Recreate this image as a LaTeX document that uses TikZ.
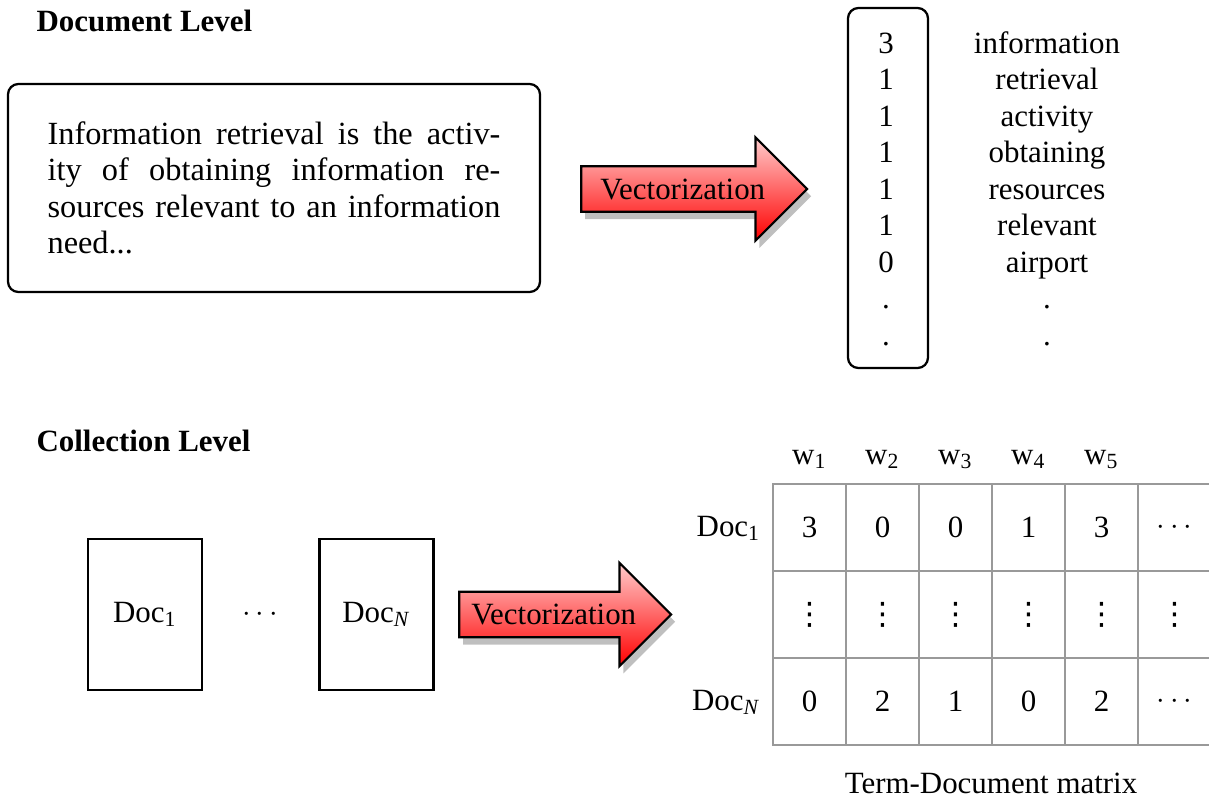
\documentclass[tikz,border=0pt]{standalone}
\usepackage{fontspec}
\setmainfont{Liberation Serif}
\newfontfamily\dotsfont{DejaVu Sans}
\usepackage{tikz}
\usetikzlibrary{shapes.arrows,shadows}
\newcommand{\vdotsc}{{\dotsfont\fontsize{11}{12}\selectfont ⋮}}
\tikzset{
  head/.style={font=\fontsize{11}{13}\selectfont\bfseries, anchor=base west, inner sep=0pt},
  txtbox/.style={draw, thick, rounded corners=1.3mm, text width=56.6mm, align=justify,
    inner xsep=4.95mm, minimum height=26mm, font=\fontsize{11.5}{13}\selectfont},
  vecbox/.style={draw, thick, rounded corners=1.3mm, minimum width=10mm, minimum height=45mm},
  vecarrow/.style={single arrow, draw, thick, top color=red!20, bottom color=red,
    drop shadow={shadow xshift=0.5mm, shadow yshift=-0.9mm},
    single arrow head extend=3.6mm, inner xsep=2pt, inner ysep=4pt, anchor=tail},
  docbox/.style={draw, thick, minimum width=14.25mm, minimum height=18.9mm},
  cell/.style={draw=gray!80, semithick, minimum width=9.125mm, minimum height=10.875mm, inner sep=0pt},
  lab/.style={inner sep=0pt},
}
\begin{document}
\begin{tikzpicture}[x=0.125mm, y=-0.125mm, font=\fontsize{11}{13}\selectfont]
  \useasboundingbox (0,0) rectangle (1209,804);

  % document level
  \node[head] (dochead) at (36,31) {Document Level};
  \node[txtbox] (para) at (274,188) {Information retrieval is the activ-\linebreak
    ity of obtaining information re-\linebreak
    sources relevant to an information\linebreak
    need...};
  \node[vecarrow, minimum height=28.25mm] (vec1) at (580,189) {Vectorization};
  \node[vecbox] (vecbox) at (888,188) {};
  \foreach \n/\w [count=\i from 0] in {3/information,1/retrieval,1/activity,1/obtaining,
      1/resources,1/relevant,0/airport,./.,./.}
  {
    \node[lab, anchor=base] (n\i) at (886,{53+36.5*\i}) {\n};
    \node[lab, anchor=base] (t\i) at (1047,{53+36.5*\i}) {\w};
  }

  % collection level
  \node[head] (colhead) at (36,451) {Collection Level};
  \node[docbox] (doc1) at (145,614.5) {Doc\textsubscript{1}};
  \node[lab] (docdots) at (260,614.5) {$\cdots$};
  \node[docbox] (docN) at (376.5,614.5) {Doc\textsubscript{\textit{N}}};
  \node[vecarrow, minimum height=26.5mm] (vec2) at (458,614.5) {Vectorization};

  % term-document matrix
  \foreach \c in {1,...,5}
    \node[lab, anchor=base] (w\c) at ({736.5+73*\c},464) {w\textsubscript{\c}};
  \foreach \v [count=\c] in {3,0,0,1,3,$\cdots$}
    \node[cell] (a\c) at ({736.5+73*\c},527.5) {\v};
  \foreach \c in {1,...,6}
    \node[cell] (b\c) at ({736.5+73*\c},614.5) {\vdotsc};
  \foreach \v [count=\c] in {0,2,1,0,2,$\cdots$}
    \node[cell] (z\c) at ({736.5+73*\c},701.5) {\v};
  \node[lab, anchor=base east] (row1) at (761,536) {Doc\textsubscript{1}};
  \node[lab, anchor=base east] (rowN) at (761,710) {Doc\textsubscript{\textit{N}}};
  \node[lab, anchor=base] (tdm) at (991,793) {Term-Document matrix};
\end{tikzpicture}
\end{document}
